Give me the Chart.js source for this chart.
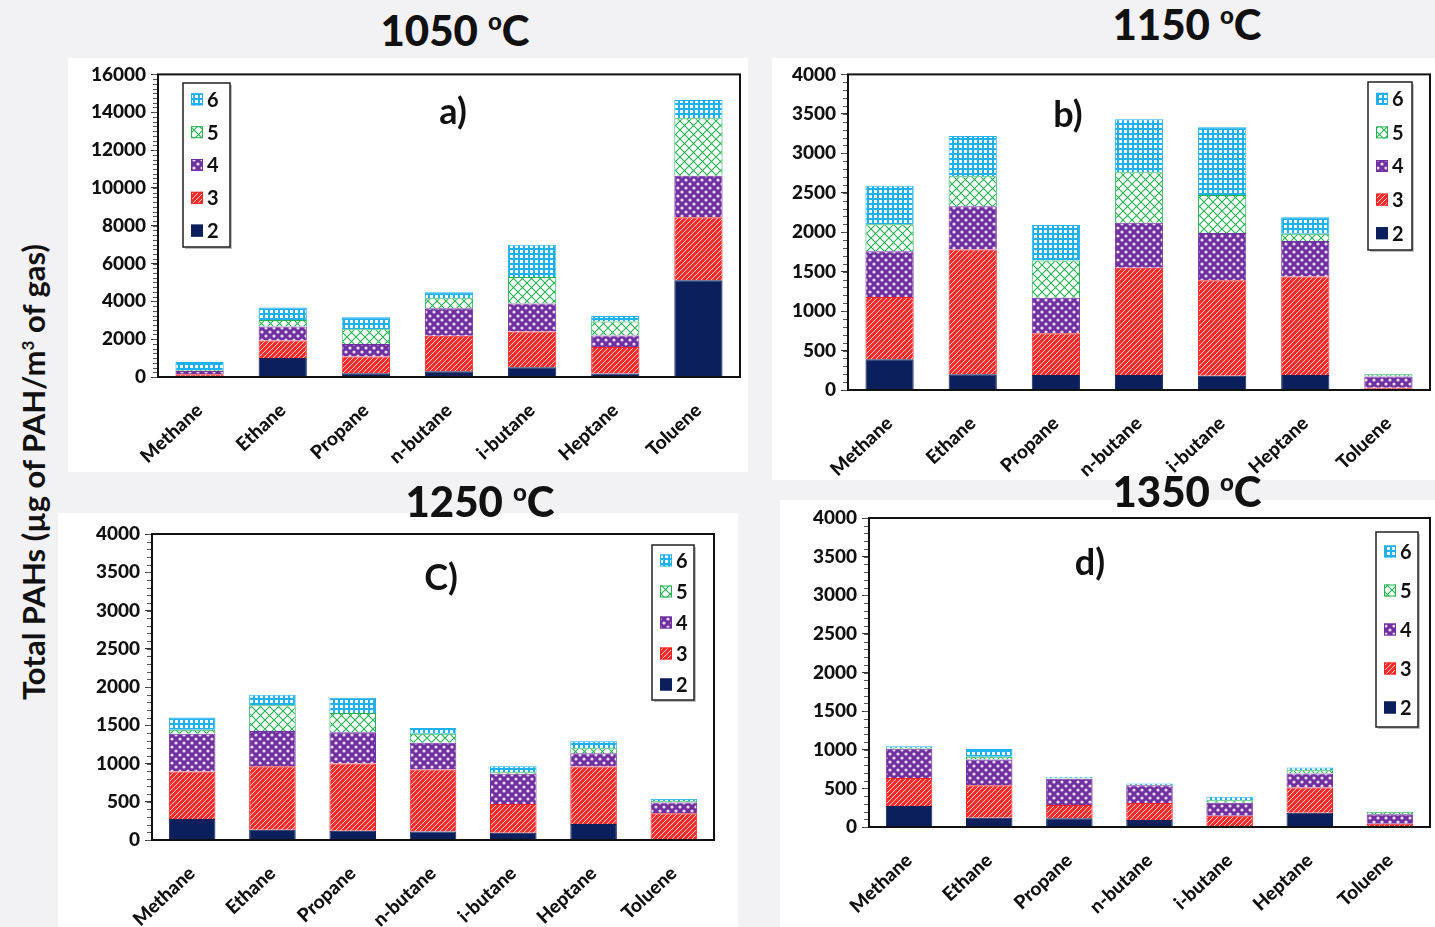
<!DOCTYPE html>
<html>
<head>
<meta charset="utf-8">
<script src="https://cdn.jsdelivr.net/npm/chart.js@4.4.0/dist/chart.umd.min.js"></script>
<style>
  body { margin: 0; background: #f2f2f4; width: 1435px; height: 927px; overflow: hidden; position: relative; font-family: Lato, sans-serif; }
  canvas { position: absolute; background: #fff; }
  .title { position: absolute; font-weight: 900; font-size: 42px; color: #111; transform: translateX(-50%); white-space: nowrap; line-height: 1; }
  .title sup { font-size: 24px; vertical-align: 16px; }
  #ytitle { position: absolute; left: 33px; top: 472px; transform: translate(-50%, -50%) rotate(-90deg); font-size: 31px; font-weight: bold; color: #111; white-space: nowrap; }
  #ytitle sup { font-size: 17px; }
</style>
</head>
<body>
<canvas id="c1050" width="680" height="414" style="left:68px;top:58px"></canvas>
<canvas id="c1150" width="663" height="422" style="left:772px;top:58px"></canvas>
<canvas id="c1250" width="680" height="414" style="left:58px;top:513px"></canvas>
<canvas id="c1350" width="655" height="427" style="left:780px;top:500px"></canvas>

<div class="title" style="left:455px;top:9px">1050 <sup>o</sup>C</div>
<div class="title" style="left:1187px;top:3px">1150 <sup>o</sup>C</div>
<div class="title" style="left:480px;top:480px">1250 <sup>o</sup>C</div>
<div class="title" style="left:1187px;top:470px">1350 <sup>o</sup>C</div>
<div id="ytitle">Total PAHs (µg of PAH/m<sup>3</sup> of gas)</div>

<script>
const categories = ['Methane', 'Ethane', 'Propane', 'n-butane', 'i-butane', 'Heptane', 'Toluene'];
const rings = ['2', '3', '4', '5', '6'];

// 1050 oC
const r2_1050 = [20, 1000, 200, 300, 520, 180, 5120];
const r3_1050 = [120, 930, 890, 1880, 1880, 1400, 3330];
const r4_1050 = [180, 740, 660, 1450, 1490, 610, 2190];
const r5_1050 = [50, 350, 780, 530, 1400, 740, 3040];
const r6_1050 = [420, 660, 630, 320, 1700, 300, 960];

// 1150 oC
const r2_1150 = [390, 200, 190, 190, 180, 190, 5];
const r3_1150 = [790, 1580, 530, 1360, 1210, 1250, 25];
const r4_1150 = [580, 550, 450, 570, 600, 450, 140];
const r5_1150 = [340, 380, 470, 640, 480, 90, 30];
const r6_1150 = [490, 510, 450, 670, 860, 210, 0];

// 1250 oC
const r2_1250 = [275, 135, 120, 110, 95, 210, 10];
const r3_1250 = [620, 830, 880, 810, 375, 750, 340];
const r4_1250 = [495, 460, 410, 350, 395, 175, 140];
const r5_1250 = [50, 335, 250, 120, 20, 65, 20];
const r6_1250 = [160, 140, 200, 75, 80, 90, 30];

// 1350 oC
const r2_1350 = [273, 120, 113, 90, 5, 186, 3];
const r3_1350 = [360, 420, 173, 220, 140, 325, 40];
const r4_1350 = [380, 335, 340, 230, 170, 180, 122];
const r5_1350 = [10, 35, 5, 5, 30, 45, 34];
const r6_1350 = [21, 100, 20, 18, 45, 35, 0];

const edges = ['#0b1f5c', '#ff2020', '#7030a0', '#22b050', '#1fb0ee'];

function makePattern(kind) {
    const c = document.createElement('canvas');
    const g = c.getContext('2d');
    if (kind === 'solid') {
        return edges[0];
    }
    if (kind === 'hatch') {
        c.width = 5; c.height = 5;
        g.fillStyle = '#ff2a2a'; g.fillRect(0, 0, 5, 5);
        g.strokeStyle = '#ffd6d6'; g.lineWidth = 1;
        g.beginPath();
        g.moveTo(0, 5); g.lineTo(5, 0);
        g.moveTo(-2.5, 2.5); g.lineTo(2.5, -2.5);
        g.moveTo(2.5, 7.5); g.lineTo(7.5, 2.5);
        g.stroke();
    } else if (kind === 'dots') {
        c.width = 8; c.height = 8;
        g.fillStyle = '#7030a0'; g.fillRect(0, 0, 8, 8);
        g.fillStyle = '#e8dcf2';
        g.beginPath(); g.arc(2, 2, 1.6, 0, Math.PI * 2); g.fill();
        g.beginPath(); g.arc(6, 6, 1.6, 0, Math.PI * 2); g.fill();
    } else if (kind === 'cross') {
        c.width = 9; c.height = 9;
        g.fillStyle = '#ffffff'; g.fillRect(0, 0, 9, 9);
        g.strokeStyle = '#22b050'; g.lineWidth = 1.1;
        g.beginPath();
        g.moveTo(0, 0); g.lineTo(9, 9);
        g.moveTo(9, 0); g.lineTo(0, 9);
        g.stroke();
    } else if (kind === 'grid') {
        c.width = 5; c.height = 5;
        g.fillStyle = '#ffffff'; g.fillRect(0, 0, 5, 5);
        g.fillStyle = '#1fb0ee';
        g.fillRect(0, 0, 5, 2);
        g.fillRect(0, 0, 2, 5);
    }
    return g.createPattern(c, 'repeat');
}

const fills = [makePattern('solid'), makePattern('hatch'), makePattern('dots'), makePattern('cross'), makePattern('grid')];

const framePlugin = {
    id: 'frame',
    afterDraw(chart, args, opts) {
        const { ctx, chartArea: a } = chart;
        const y = chart.scales.y;
        ctx.save();
        // minor ticks
        ctx.strokeStyle = '#555';
        ctx.lineWidth = 1;
        for (let v = 0; v <= y.max; v += opts.minor) {
            const py = Math.round(y.getPixelForValue(v)) + 0.5;
            ctx.beginPath(); ctx.moveTo(a.left - 5, py); ctx.lineTo(a.left, py); ctx.stroke();
        }
        // plot box
        ctx.strokeStyle = '#111';
        ctx.lineWidth = 2;
        ctx.strokeRect(a.left, a.top, a.right - a.left, a.bottom - a.top);

        // panel letter
        ctx.fillStyle = '#111';
        ctx.font = 'bold 36px Lato';
        ctx.textAlign = 'center';
        ctx.textBaseline = 'middle';
        ctx.fillText(opts.letter, opts.lx, opts.ly);

        // legend
        const b = opts.box;
        ctx.fillStyle = 'rgba(0,0,0,0.25)';
        ctx.fillRect(b.x + 2, b.y + 2, b.w, b.h);
        ctx.fillStyle = '#fff';
        ctx.fillRect(b.x, b.y, b.w, b.h);
        ctx.strokeStyle = '#222';
        ctx.lineWidth = 1.5;
        ctx.strokeRect(b.x, b.y, b.w, b.h);
        const rowH = b.h / rings.length;
        ctx.font = 'bold 20px Lato';
        ctx.textAlign = 'left';
        for (let k = 0; k < rings.length; k++) {
            const i = rings.length - 1 - k;
            const cy = b.y + rowH * (k + 0.5);
            ctx.fillStyle = fills[i];
            ctx.fillRect(b.x + 8, cy - 6, 12, 12);
            ctx.strokeStyle = edges[i];
            ctx.lineWidth = 1;
            ctx.strokeRect(b.x + 8.5, cy - 5.5, 11, 11);
            ctx.fillStyle = '#111';
            ctx.fillText(rings[i], b.x + 24, cy + 1);
        }
        ctx.restore();
    }
};

function makeChart(id, series, cfg) {
    new Chart(document.getElementById(id), {
        type: 'bar',
        data: {
            labels: categories,
            datasets: rings.map((r, i) => ({
                label: r,
                data: series[i],
                backgroundColor: fills[i],
                borderColor: edges[i],
                borderWidth: 1,
                barPercentage: 0.58,
                categoryPercentage: 1
            }))
        },
        options: {
            responsive: false,
            animation: false,
            layout: { padding: { top: cfg.top, right: cfg.right, left: 0, bottom: 0 } },
            plugins: {
                legend: { display: false },
                tooltip: { enabled: false },
                frame: { minor: cfg.minor, letter: cfg.letter, lx: cfg.lx, ly: cfg.ly, box: cfg.box }
            },
            scales: {
                x: {
                    stacked: true,
                    grid: { display: false },
                    border: { display: false },
                    ticks: {
                        color: '#111',
                        font: { family: 'Lato', weight: '900', size: 19 },
                        maxRotation: 43,
                        minRotation: 43,
                        padding: 14
                    },
                    afterFit: s => { s.height = cfg.xh; }
                },
                y: {
                    stacked: true,
                    min: 0,
                    max: cfg.max,
                    ticks: {
                        stepSize: cfg.step,
                        color: '#111',
                        font: { family: 'Lato', weight: '900', size: 19 },
                        padding: 5,
                        callback: v => String(v)
                    },
                    grid: { drawOnChartArea: false, drawTicks: true, tickLength: 7, color: '#333' },
                    border: { display: false },
                    afterFit: s => { s.width = cfg.yw; }
                }
            }
        },
        plugins: [framePlugin]
    });
}

makeChart('c1050', [r2_1050, r3_1050, r4_1050, r5_1050, r6_1050], {
    max: 16000, step: 2000, minor: 250, top: 14, right: 8, yw: 90, xh: 95,
    letter: 'a)', lx: 385, ly: 54, box: { x: 115, y: 25, w: 47, h: 164 }
});
makeChart('c1150', [r2_1150, r3_1150, r4_1150, r5_1150, r6_1150], {
    max: 4000, step: 500, minor: 100, top: 15, right: 5, yw: 76, xh: 90,
    letter: 'b)', lx: 296, ly: 57, box: { x: 596, y: 24, w: 44, h: 168 }
});
makeChart('c1250', [r2_1250, r3_1250, r4_1250, r5_1250, r6_1250], {
    max: 4000, step: 500, minor: 100, top: 21, right: 24, yw: 94, xh: 87,
    letter: 'C)', lx: 383, ly: 65, box: { x: 594, y: 32, w: 42, h: 155 }
});
makeChart('c1350', [r2_1350, r3_1350, r4_1350, r5_1350, r6_1350], {
    max: 4000, step: 500, minor: 100, top: 18, right: 5, yw: 89, xh: 100,
    letter: 'd)', lx: 310, ly: 63, box: { x: 596, y: 32, w: 42, h: 195 }
});
</script>
</body>
</html>
